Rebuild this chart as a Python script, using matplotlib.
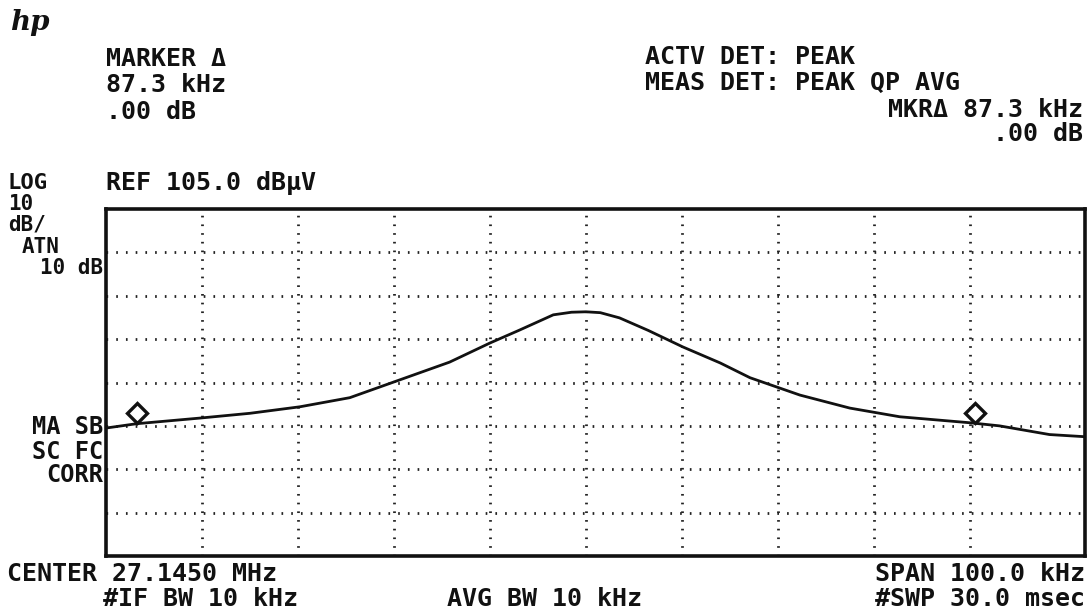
import numpy as np
import matplotlib
matplotlib.use("Agg")
import matplotlib.pyplot as plt

# trace (offset from center in kHz, level in dBuV)
freq_khz = [-50.0, -46.8, -40.2, -35.0, -29.8, -24.6, -19.4, -14.2, -10.0,
            -6.9, -3.4, -1.5, 0.0, 1.5, 3.5, 6.5, 10.1, 14.0, 17.1, 22.3,
            27.5, 32.7, 40.1, 43.1, 48.3, 52.0]
level_db = [54.5, 55.5, 56.8, 57.9, 59.4, 61.5, 65.6, 69.7, 74.1,
            77.1, 80.6, 81.2, 81.3, 81.1, 79.9, 77.0, 73.2, 69.5, 66.1, 62.1,
            59.1, 57.1, 55.7, 55.0, 53.0, 52.5]

# delta marker pair
mkr_khz = [-46.8, 40.5]
mkr_db = [58.0, 58.0]

ref_level = 105.0
db_per_div = 10
n_ydiv = 8
x_grid = [-40, -30, -20, -10, 0, 10, 20, 30, 40]

W, H = 1089, 616
FONT = "DejaVu Sans Mono"
INK = "#111111"


def put(x, y, s, ha="left", size=18):
    # x, y in screen pixels (top-left origin)
    fig.text(x / W, 1 - y / H, s, ha=ha, va="center", family=FONT,
             weight="bold", size=size, color=INK)


fig = plt.figure(figsize=(W / 100, H / 100), dpi=100)
ax = fig.add_axes([106 / W, 1 - 556 / H, (1085 - 106) / W, (556 - 209) / H])

ax.plot(freq_khz, level_db, color=INK, lw=2.0, zorder=3)
ax.plot(mkr_khz, mkr_db, ls="none", marker="D", ms=10, mfc="white",
        mec=INK, mew=2.4, zorder=4)

ax.set_xlim(-50, 52)
ax.set_ylim(ref_level - n_ydiv * db_per_div, ref_level)
ax.set_xticks(x_grid)
ax.set_yticks(np.arange(ref_level - (n_ydiv - 1) * db_per_div, ref_level, db_per_div))
ax.xaxis.grid(True, color="#222222", lw=2.0, linestyle=(0, (0.6, 2.53)))
ax.yaxis.grid(True, color="#222222", lw=2.0, linestyle=(0, (0.6, 2.9)))
ax.tick_params(length=0, labelbottom=False, labelleft=False)
for sp in ax.spines.values():
    sp.set_linewidth(2.6)
    sp.set_color(INK)

# logo
fig.text(10 / W, 1 - 22 / H, "hp", family="DejaVu Serif", style="italic",
         weight="bold", size=20, color=INK, va="center")

# top left marker readout
put(106, 59, "MARKER \u0394")
put(106, 85, "87.3 kHz")
put(106, 112, ".00 dB")

# top right detector block
put(645, 57, "ACTV DET: PEAK")
put(645, 83, "MEAS DET: PEAK QP AVG")
put(1083, 110, "MKR\u0394 87.3 kHz", ha="right")
put(1083, 134, ".00 dB", ha="right")

# scale labels
put(8, 183, "LOG", size=16)
put(106, 183, "REF 105.0 dB\u03bcV")
put(8, 204, "10", size=15)
put(8, 225, "dB/", size=15)
put(22, 247, "ATN", size=15)
put(103, 268, "10 dB", ha="right", size=15)
put(103, 427, "MA SB", ha="right", size=17)
put(103, 452, "SC FC", ha="right", size=17)
put(103, 475, "CORR", ha="right", size=17)

# bottom settings
put(7, 574, "CENTER 27.1450 MHz")
put(103, 599, "#IF BW 10 kHz")
put(447, 599, "AVG BW 10 kHz")
put(1085, 574, "SPAN 100.0 kHz", ha="right")
put(1085, 599, "#SWP 30.0 msec", ha="right")

fig.savefig("out.png", dpi=100, facecolor="white")
